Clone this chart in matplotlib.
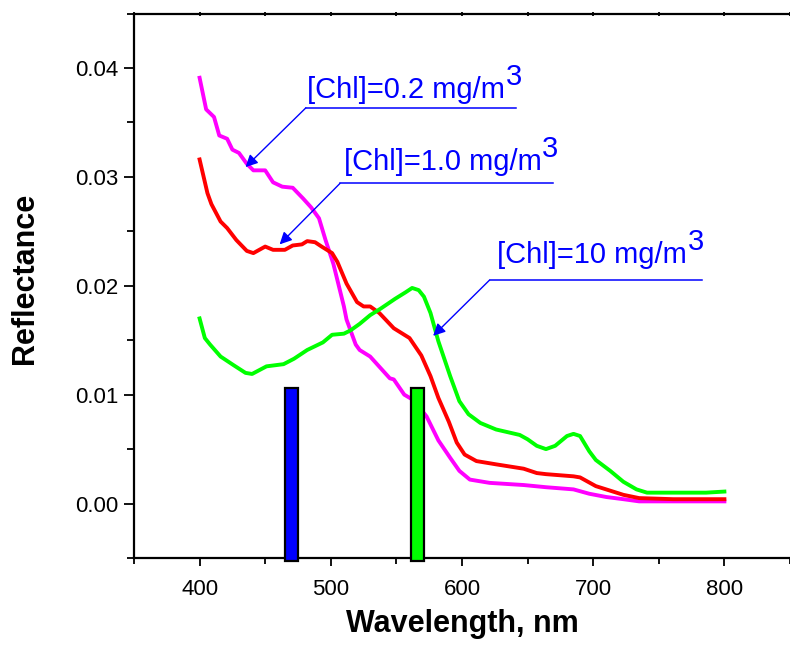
import matplotlib
matplotlib.use("Agg")
import matplotlib.pyplot as plt
from matplotlib.ticker import MultipleLocator, NullFormatter

plt.rcParams['font.family'] = ['Liberation Sans', 'DejaVu Sans']

# ---- data ----
wl_02 = [400, 405, 411, 415, 421, 425, 430, 436, 441, 450, 456, 463, 471, 479, 485, 491,
         496, 502, 510, 512, 519, 522, 530, 536, 545, 548, 556, 563, 573, 582, 591, 598,
         606, 621, 647, 664, 685, 697, 710, 723, 735, 760, 800]
r_02 = [0.0391, 0.0362, 0.0355, 0.0338, 0.0335, 0.0325, 0.0322, 0.0312, 0.0306, 0.0306,
        0.0295, 0.0291, 0.0290, 0.0280, 0.0272, 0.0262, 0.0242, 0.0220, 0.0181, 0.0169,
        0.0146, 0.0141, 0.0135, 0.0127, 0.0115, 0.0114, 0.0100, 0.0095, 0.0080, 0.0058,
        0.0042, 0.0030, 0.0022, 0.0019, 0.0017, 0.0015, 0.0013, 0.0009, 0.0006, 0.0004,
        0.0002, 0.0002, 0.0002]

wl_10 = [400, 406, 409, 416, 421, 428, 436, 441, 450, 456, 465, 471, 478, 482, 488, 493,
         501, 505, 512, 520, 525, 530, 537, 548, 560, 569, 576, 582, 590, 596, 602, 611,
         626, 647, 657, 664, 685, 690, 702, 723, 735, 761, 800]
r_10 = [0.0316, 0.0285, 0.0275, 0.0259, 0.0253, 0.0242, 0.0232, 0.0230, 0.0236, 0.0233,
        0.0233, 0.0237, 0.0238, 0.0241, 0.0240, 0.0236, 0.0230, 0.0222, 0.0202, 0.0185,
        0.0181, 0.0181, 0.0175, 0.0161, 0.0152, 0.0136, 0.0117, 0.0097, 0.0075, 0.0056,
        0.0045, 0.0039, 0.0036, 0.0032, 0.0028, 0.0027, 0.0025, 0.0024, 0.0016, 0.0008,
        0.0005, 0.0004, 0.0004]

wl_100 = [400, 404, 408, 416, 426, 435, 440, 451, 464, 472, 482, 494, 501, 510, 515, 522,
          530, 538, 549, 557, 562, 567, 571, 576, 582, 591, 598, 605, 614, 626, 644, 650,
          657, 664, 671, 680, 685, 690, 697, 702, 713, 723, 733, 741, 761, 786, 800]
r_100 = [0.0170, 0.0152, 0.0146, 0.0135, 0.0127, 0.0120, 0.0119, 0.0126, 0.0128, 0.0133,
         0.0141, 0.0148, 0.0155, 0.0156, 0.0159, 0.0165, 0.0173, 0.0179, 0.0188, 0.0194,
         0.0198, 0.0196, 0.0190, 0.0175, 0.0149, 0.0117, 0.0094, 0.0082, 0.0074, 0.0068,
         0.0063, 0.0059, 0.0053, 0.0050, 0.0053, 0.0062, 0.0064, 0.0062, 0.0048, 0.0040,
         0.0030, 0.0020, 0.0013, 0.0010, 0.0010, 0.0010, 0.0011]

bar_centers = [470, 566]
bar_top = 0.0106
bar_colors = ['#0000FF', '#00FF00']

labels = ['[Chl]=0.2 mg/m', '[Chl]=1.0 mg/m', '[Chl]=10 mg/m']

# ---- figure ----
fig = plt.figure(figsize=(7.9, 6.45), dpi=100)
ax = fig.add_axes([0.1696, 0.1349, 0.8304, 0.8441])

ax.plot(wl_02, r_02, color='#FF00FF', lw=2.8, zorder=2)
ax.plot(wl_10, r_10, color='#FF0000', lw=2.8, zorder=2)
ax.plot(wl_100, r_100, color='#00FF00', lw=2.8, zorder=2)

bar_bottom = -0.0053
ax.bar(bar_centers, [bar_top - bar_bottom] * 2, bottom=bar_bottom, width=10,
       color=bar_colors, edgecolor='black', linewidth=1.6, clip_on=False, zorder=3)

ax.set_xlim(350, 850)
ax.set_ylim(-0.005, 0.045)
ax.xaxis.set_major_locator(MultipleLocator(100))
ax.xaxis.set_minor_locator(MultipleLocator(50))
ax.yaxis.set_major_locator(MultipleLocator(0.01))
ax.yaxis.set_minor_locator(MultipleLocator(0.005))
ax.yaxis.set_major_formatter(plt.FuncFormatter(lambda v, p: f"{v:.2f}"))

ax.tick_params(axis='x', which='major', direction='out', length=6, width=1.3,
               labelsize=16, pad=9)
ax.tick_params(axis='x', which='minor', direction='out', length=4.5, width=1.3)
ax.tick_params(axis='y', which='major', direction='out', length=7.5, width=1.3,
               labelsize=16, pad=4)
ax.tick_params(axis='y', which='minor', direction='out', length=5, width=1.3)

# tiny ticks on the top spine, no labels
sec = ax.secondary_xaxis('top')
sec.xaxis.set_major_locator(MultipleLocator(50))
sec.xaxis.set_major_formatter(NullFormatter())
sec.tick_params(axis='x', which='major', direction='inout', length=3, width=1.3)
sec.spines['top'].set_visible(False)

for s in ['left', 'bottom', 'top']:
    ax.spines[s].set_linewidth(1.6)
ax.spines['right'].set_visible(False)

ax.set_xlabel('Wavelength, nm', fontsize=22, fontweight='bold')
ax.set_ylabel('Reflectance', fontsize=22, fontweight='bold')
ax.xaxis.set_label_coords(0.5, -0.093)
ax.yaxis.set_label_coords(-0.143, 0.514)

# ---- annotations ----
blue = '#0000FF'
ann = [
    # text pos, underline (x0, x1, y), arrow tip
    ((482, 0.0372), (481, 641, 0.03634), (435, 0.0309)),
    ((510, 0.0306), (507, 669, 0.0294), (461, 0.0238)),
    ((627, 0.0221), (621, 783, 0.02052), (578, 0.0154)),
]
for lab, (tpos, (ux0, ux1, uy), tip) in zip(labels, ann):
    t = ax.text(tpos[0], tpos[1], lab, color=blue, fontsize=21, va='baseline', ha='left')
    ax.annotate('3', xy=(1, 0), xycoords=t, xytext=(0.5, 9.5), textcoords='offset points',
                color=blue, fontsize=21, va='bottom', ha='left')
    ax.plot([ux0, ux1], [uy, uy], color=blue, lw=1.1)
    ax.annotate('', xy=tip, xytext=(ux0, uy),
                arrowprops=dict(arrowstyle='-|>', color=blue, lw=1.0, mutation_scale=18,
                                shrinkA=0, shrinkB=0))

fig.savefig('out.png', dpi=100)
